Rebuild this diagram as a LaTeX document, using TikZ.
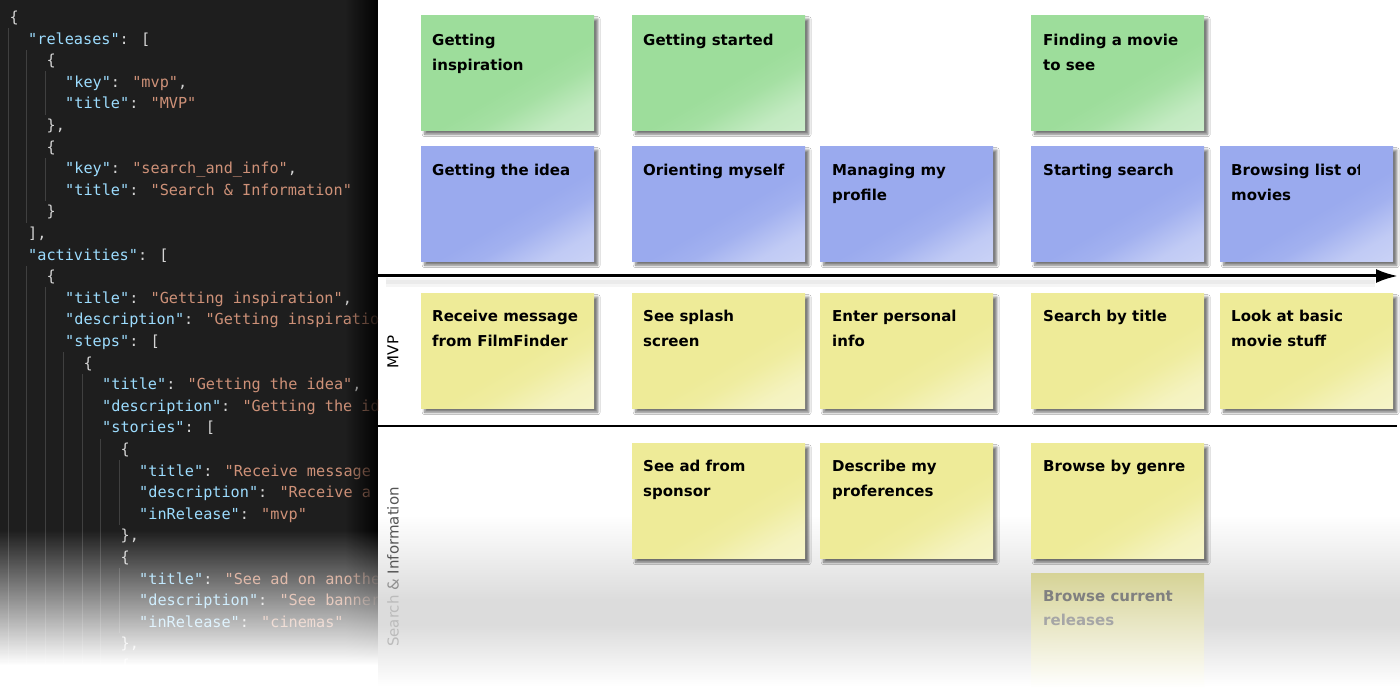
\documentclass[tikz,border=0pt]{standalone}
\usepackage{fontspec}
\usetikzlibrary{shadows.blur,arrows.meta,calc}
\newfontfamily\codefont{DejaVu Sans Mono}
\newfontfamily\cardfont{DejaVu Sans}
\definecolor{panel}{HTML}{1E1E1E}
\definecolor{jkey}{HTML}{9CDCFE}
\definecolor{jstr}{HTML}{CE9178}
\definecolor{jpun}{HTML}{D4D4D4}
\definecolor{guidec}{HTML}{404040}
\definecolor{cardgreen}{RGB}{157,221,155}
\definecolor{cardblue}{RGB}{154,170,238}
\definecolor{cardyellow}{RGB}{238,235,152}
\definecolor{bandg}{HTML}{DCDCDC}
\definecolor{fadetop}{RGB}{214,211,150}
\definecolor{fademid}{RGB}{228,227,200}
\colorlet{cardc}{white}
\pgfdeclareverticalshading[cardc]{cardgloss}{100bp}{color(0bp)=(cardc!38!white); color(25bp)=(cardc!62!white); color(37bp)=(cardc!92!white); color(45bp)=(cardc); color(100bp)=(cardc)}
\newcommand\jk[1]{\textcolor{jkey}{#1}}
\newcommand\js[1]{\textcolor{jstr}{#1}}
\newcommand\codeln[3]{\node[codetext] (code#2) at ({9.5+18.5*#1},{22.5+21.6*#2}) {#3};}
\begin{document}
\begin{tikzpicture}[x=1pt,y=-1pt,
  codetext/.style={anchor=base west, inner sep=0pt, font=\codefont\fontsize{15.2}{18}\selectfont, text=jpun},
  guideline/.style={draw=guidec, line width=1pt},
  cardshape/.style={draw=none, minimum width=173pt, minimum height=115pt, inner sep=0pt, anchor=north west},
  cardshadow/.style={blur shadow={shadow xshift=3.5pt, shadow yshift=-4pt, shadow blur radius=2.5pt, shadow opacity=55}},
  card/.style={cardshape, cardshadow, /utils/exec={\colorlet{cardc}{#1}}, shade, shading=cardgloss, shading angle=30},
  cardtext/.style={anchor=north west, inner sep=0pt, align=left, text=black, font=\cardfont\bfseries\fontsize{15}{24.5}\selectfont},
  lanelabel/.style={inner sep=0pt, font=\cardfont\fontsize{15}{17}\selectfont},
]
\useasboundingbox (0,0) rectangle (1400,700);
\fill[white] (0,0) rectangle (1400,700);

% ---------- code panel ----------
\fill[panel] (0,0) rectangle (378,700);
\begin{scope}
\clip (0,0) rectangle (378,700);
\foreach \lv/\a/\b in {0/1/30, 1/2/9, 1/12/30, 2/3/4, 2/7/8, 2/13/30, 3/16/30, 4/17/30, 5/20/30, 6/21/23, 6/26/28}
  \draw[guideline] ({8+18.5*\lv},{6.7+21.6*\a}) -- ({8+18.5*\lv},{28.3+21.6*\b});
\codeln{0}{0}{\{}
\codeln{1}{1}{\jk{"releases"}: [}
\codeln{2}{2}{\{}
\codeln{3}{3}{\jk{"key"}: \js{"mvp"},}
\codeln{3}{4}{\jk{"title"}: \js{"MVP"}}
\codeln{2}{5}{\},}
\codeln{2}{6}{\{}
\codeln{3}{7}{\jk{"key"}: \js{"search\_and\_info"},}
\codeln{3}{8}{\jk{"title"}: \js{"Search \& Information"}}
\codeln{2}{9}{\}}
\codeln{1}{10}{],}
\codeln{1}{11}{\jk{"activities"}: [}
\codeln{2}{12}{\{}
\codeln{3}{13}{\jk{"title"}: \js{"Getting inspiration"},}
\codeln{3}{14}{\jk{"description"}: \js{"Getting inspiration}}
\codeln{3}{15}{\jk{"steps"}: [}
\codeln{4}{16}{\{}
\codeln{5}{17}{\jk{"title"}: \js{"Getting the idea"},}
\codeln{5}{18}{\jk{"description"}: \js{"Getting the idea}}
\codeln{5}{19}{\jk{"stories"}: [}
\codeln{6}{20}{\{}
\codeln{7}{21}{\jk{"title"}: \js{"Receive message from}}
\codeln{7}{22}{\jk{"description"}: \js{"Receive a}}
\codeln{7}{23}{\jk{"inRelease"}: \js{"mvp"}}
\codeln{6}{24}{\},}
\codeln{6}{25}{\{}
\codeln{7}{26}{\jk{"title"}: \js{"See ad on another}}
\codeln{7}{27}{\jk{"description"}: \js{"See banner}}
\codeln{7}{28}{\jk{"inRelease"}: \js{"cinemas"}}
\codeln{6}{29}{\},}
\codeln{6}{30}{\{}
% right edge darkening
\foreach \i [evaluate=\i as \op using 0.027*\i] in {0,...,32}
  \fill[black, opacity=\op] ({345+\i},0) rectangle ({346+\i},700);
% bottom fade to white
\foreach \i [evaluate=\i as \op using \i/135] in {0,...,134}
  \fill[white, opacity=\op] (0,{530+\i}) rectangle (378,{531+\i});
\fill[white] (0,665) rectangle (378,700);
\end{scope}

% ---------- story map background band ----------
\shade[top color=white, bottom color=bandg] (378,515) rectangle (1400,600);
\fill[bandg] (378,600) rectangle (1400,625);
\shade[top color=bandg, bottom color=white] (378,625) rectangle (1400,686);

% ---------- axis and lane separator ----------
\coordinate (axisL) at (378,276);
\coordinate (axisR) at (1398,276);
\coordinate (laneL) at (378,426);
\coordinate (laneR) at (1397,426);
\draw[line width=9pt, black!4] (386,283) -- (1375,283);
\draw[line width=4pt, black!8] (386,282) -- (1375,282);
\draw[line width=3pt, -{Latex[length=22pt,width=14pt]}] (axisL) -- (axisR);
\draw[line width=1.3pt] (laneL) -- (laneR);

% ---------- lane labels ----------
\node[lanelabel, rotate=90, text=black] (lmvp) at (393,352) {MVP};
\node[lanelabel, rotate=90] (lsi) at (393,567)
  {\textcolor[HTML]{BBBBBB}{Search} \textcolor[HTML]{909090}{\&} \textcolor[HTML]{555555}{Information}};

% ---------- activities ----------
\node[card=cardgreen] (a1) at (421,15) {};
\node[card=cardgreen] (a2) at (632,15) {};
\node[card=cardgreen] (a4) at (1031,15) {};
% ---------- steps ----------
\node[card=cardblue] (s1) at (421,146) {};
\node[card=cardblue] (s2) at (632,146) {};
\node[card=cardblue] (s3) at (820,146) {};
\node[card=cardblue] (s4) at (1031,146) {};
\node[card=cardblue] (s5) at (1220,146) {};
% ---------- MVP stories ----------
\node[card=cardyellow] (m1) at (421,293) {};
\node[card=cardyellow] (m2) at (632,293) {};
\node[card=cardyellow] (m3) at (820,293) {};
\node[card=cardyellow] (m4) at (1031,293) {};
\node[card=cardyellow] (m5) at (1220,293) {};
% ---------- Search & Information stories ----------
\node[card=cardyellow] (r2) at (632,443) {};
\node[card=cardyellow] (r3) at (820,443) {};
\node[card=cardyellow] (r4) at (1031,443) {};
\node[cardshape, top color=fadetop, middle color=fademid, bottom color=white] (r5) at (1031,573) {};

% ---------- card texts ----------
\node[cardtext] (ta1) at ($(a1.north west)+(11,19)$) {Getting\\inspiration};
\node[cardtext] (ta2) at ($(a2.north west)+(11,19)$) {Getting started};
\node[cardtext] (ta4) at ($(a4.north west)+(12,19)$) {Finding a movie\\to see};
\node[cardtext] (ts1) at ($(s1.north west)+(11,18)$) {Getting the idea};
\node[cardtext] (ts2) at ($(s2.north west)+(11,18)$) {Orienting myself};
\node[cardtext] (ts3) at ($(s3.north west)+(12,18)$) {Managing my\\profile};
\node[cardtext] (ts4) at ($(s4.north west)+(12,18)$) {Starting search};
\begin{scope}
\clip (1220,140) rectangle (1359,270);
\node[cardtext] (ts5) at ($(s5.north west)+(11,18)$) {Browsing list of\\movies};
\end{scope}
\node[cardtext] (tm1) at ($(m1.north west)+(11,17)$) {Receive message\\from FilmFinder};
\node[cardtext] (tm2) at ($(m2.north west)+(11,17)$) {See splash\\screen};
\node[cardtext] (tm3) at ($(m3.north west)+(12,17)$) {Enter personal\\info};
\node[cardtext] (tm4) at ($(m4.north west)+(12,17)$) {Search by title};
\node[cardtext] (tm5) at ($(m5.north west)+(11,17)$) {Look at basic\\movie stuff};
\node[cardtext] (tr2) at ($(r2.north west)+(11,17)$) {See ad from\\sponsor};
\node[cardtext] (tr3) at ($(r3.north west)+(12,17)$) {Describe my\\proferences};
\node[cardtext] (tr4) at ($(r4.north west)+(12,17)$) {Browse by genre};
\node[cardtext, text=black!50] (tr5) at ($(r5.north west)+(12,17)$)
  {Browse current\\\textcolor{black!35}{releases}};
\end{tikzpicture}
\end{document}
